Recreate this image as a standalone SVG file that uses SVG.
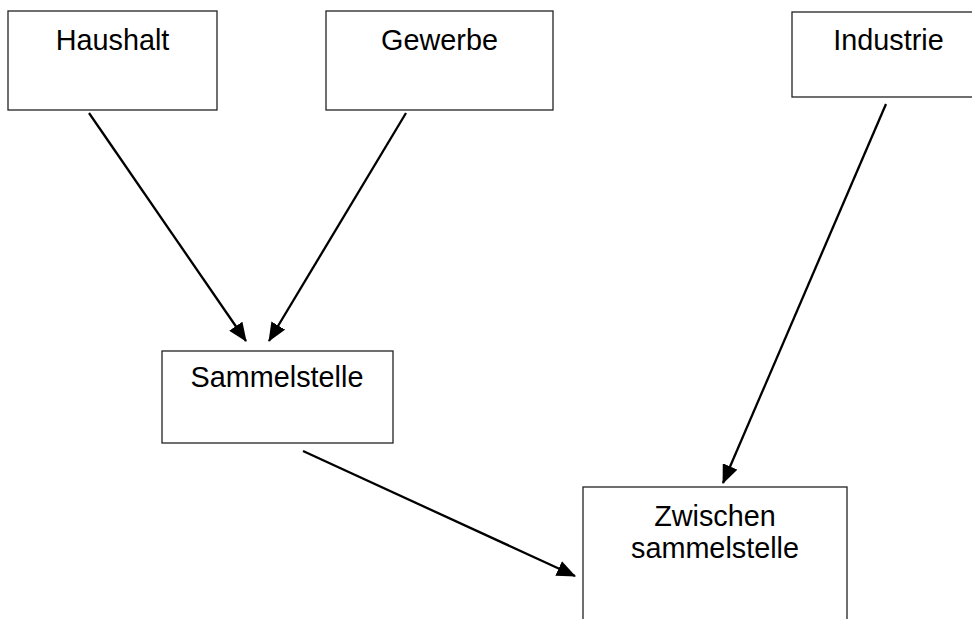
<svg xmlns="http://www.w3.org/2000/svg" width="972" height="619" viewBox="0 0 972 619">
<style>
.box{fill:#fff;stroke:#222;stroke-width:1.3}
.lbl{font-family:"Liberation Sans",Arial,sans-serif;font-size:28.8px;fill:#000;text-anchor:middle}
.conn{stroke:#000;stroke-width:2.3;fill:none;marker-end:url(#ah)}
</style>
<defs>
<marker id="ah" markerUnits="userSpaceOnUse" markerWidth="19" markerHeight="16" viewBox="0 0 19 16" refX="18" refY="8" orient="auto">
<path d="M0,0 L19,8 L0,16 z" fill="#000"/>
</marker>
</defs>
<rect width="972" height="619" fill="#fff"/>
<g id="haushalt"><rect class="box" x="8" y="11" width="209" height="99"/><text class="lbl" x="112.5" y="49.5">Haushalt</text></g>
<g id="gewerbe"><rect class="box" x="326" y="11" width="227" height="99"/><text class="lbl" x="439.5" y="49.5">Gewerbe</text></g>
<g id="industrie"><rect class="box" x="792" y="12" width="195" height="85"/><text class="lbl" x="888.5" y="49.5">Industrie</text></g>
<g id="sammelstelle"><rect class="box" x="162" y="351" width="231" height="92"/><text class="lbl" x="277" y="387">Sammelstelle</text></g>
<g id="zwischensammelstelle"><rect class="box" x="583" y="487" width="264" height="150"/><text class="lbl" x="715" y="526">Zwischen</text><text class="lbl" x="715" y="558">sammelstelle</text></g>
<g id="connectors">
<line class="conn" x1="89" y1="113" x2="246" y2="341"/>
<line class="conn" x1="406" y1="113" x2="269" y2="341"/>
<line class="conn" x1="886" y1="104" x2="723" y2="483"/>
<line class="conn" x1="303" y1="451" x2="575" y2="576"/>
</g>
</svg>
